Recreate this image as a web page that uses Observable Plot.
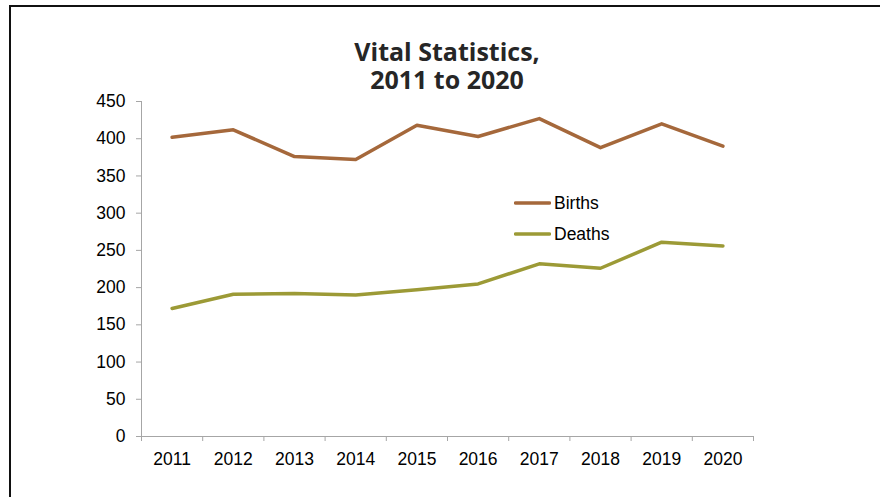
<!DOCTYPE html>
<html>
<head>
<meta charset="utf-8">
<script src="https://cdn.jsdelivr.net/npm/d3@7"></script>
<script src="https://cdn.jsdelivr.net/npm/@observablehq/plot@0.6"></script>
<style>
  html, body { margin: 0; padding: 0; background: #fff; overflow: hidden; width: 880px; height: 497px; }
  #frame { position: absolute; left: 9px; top: 5px; width: 1000px; height: 1000px; border: 2px solid #111; box-sizing: border-box; }
  .title-line { position: absolute; left: 0; width: 894px; height: 27.5px; text-align: center; font-family: "Open Sans", sans-serif; font-weight: 700; font-size: 25px; line-height: 27.5px; color: #262626; z-index: 2; white-space: nowrap; }
  #chart { position: absolute; left: 0; top: 0; }
  .legend-row { position: absolute; left: 514px; height: 20px; display: flex; align-items: center; font-family: "Liberation Sans", Arial, sans-serif; font-size: 17.5px; line-height: 20px; color: #000; z-index: 2; }
  .legend-row svg { display: block; margin-right: 3px; }
</style>
</head>
<body>
<div id="frame"></div>
<div class="title-line" style="top:38.3px">Vital Statistics,</div>
<div class="title-line" style="top:65.8px">2011 to 2020</div>
<div id="chart"></div>
<div id="legend"></div>
<script>
// ---- data ----
const years = [2011, 2012, 2013, 2014, 2015, 2016, 2017, 2018, 2019, 2020];
const births = [402, 412, 376, 372, 418, 403, 427, 388, 420, 390];
const deaths = [172, 191, 192, 190, 197, 205, 232, 226, 261, 256];
const seriesNames = ["Births", "Deaths"];
const seriesColors = ["#a5683b", "#9c9a36"];
const yTicks = [0, 50, 100, 150, 200, 250, 300, 350, 400, 450];

// ---- table ----
const seriesValues = [births, deaths];
const data = [];
seriesNames.forEach((name, i) => {
  years.forEach((yr, j) => data.push({ series: name, year: yr, value: seriesValues[i][j] }));
});
const boundaries = years.map(y => y - 0.5).concat([years[years.length - 1] + 0.5]);

const axisGray = "#a6a6a6";

const chart = Plot.plot({
  width: 880,
  height: 497,
  marginLeft: 141,
  marginRight: 127,
  marginTop: 101,
  marginBottom: 61,
  x: { type: "linear", domain: [boundaries[0], boundaries[boundaries.length - 1]] },
  y: { domain: [0, 450] },
  color: { domain: seriesNames, range: seriesColors },
  style: { fontFamily: "'Liberation Sans', Arial, sans-serif", fontSize: "17.5px", color: "#000", background: "transparent" },
  marks: [
    Plot.axisY({ ticks: yTicks, tickSize: 5, tickPadding: 11, stroke: axisGray, fill: "#000", label: null, tickFormat: d => String(d) }),
    Plot.axisX({ ticks: years, tickSize: 0, tickPadding: 16, fill: "#000", label: null, tickFormat: d => String(d) }),
    Plot.axisX({ ticks: boundaries, tickSize: 5, stroke: axisGray, label: null, tickFormat: () => "" }),
    Plot.ruleY([0], { stroke: axisGray }),
    Plot.ruleX([boundaries[0]], { stroke: axisGray }),
    Plot.line(data, { x: "year", y: "value", z: "series", stroke: "series", strokeWidth: 3.5, strokeLinejoin: "round", strokeLinecap: "round" })
  ]
});
document.getElementById("chart").appendChild(chart);

// ---- legend ----
const legend = document.getElementById("legend");
seriesNames.forEach((name, i) => {
  const row = document.createElement("div");
  row.className = "legend-row";
  row.style.top = (193 + 31 * i) + "px";
  row.innerHTML = `<svg width="37" height="6"><line x1="1.5" y1="3" x2="35.5" y2="3" stroke="${seriesColors[i]}" stroke-width="3.5" stroke-linecap="round"/></svg><span>${name}</span>`;
  legend.appendChild(row);
});
</script>
</body>
</html>
